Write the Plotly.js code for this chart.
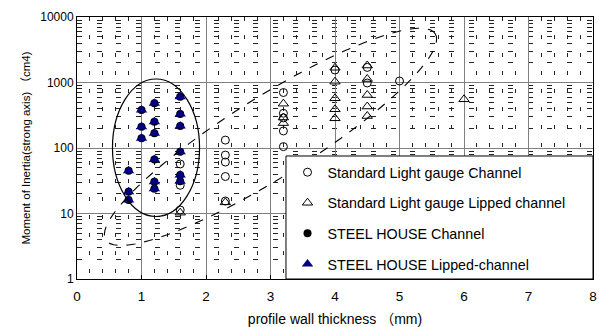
<!DOCTYPE html>
<html>
<head>
<meta charset="utf-8">
<script src="https://cdn.plot.ly/plotly-3.0.1.min.js"></script>
<style>
  html, body { margin: 0; padding: 0; background: #fff; }
  #chart { width: 599px; height: 327px; }
</style>
</head>
<body>
<div id="chart"></div>
<script>
// ---- data ----
const stdChannelX = [1.6, 1.6, 1.6, 2.3, 2.3, 2.3, 2.3, 2.3, 3.2, 3.2, 3.2, 3.2, 3.2, 4.0, 4.5, 4.5, 5.0];
const stdChannelY = [57, 27, 11.3, 132, 78, 61, 36.7, 15.5, 703, 339, 288, 182, 105, 1550, 1700, 983, 1054];

const stdLippedX = [1.6, 2.3, 3.2, 3.2, 3.2, 4.0, 4.0, 4.0, 4.0, 4.0, 4.5, 4.5, 4.5, 4.5, 4.5, 6.0];
const stdLippedY = [10.3, 14.8, 475, 292, 240, 1680, 1029, 574, 390, 284, 1818, 1131, 645, 430, 308, 554];

const shChannelX = [0.8, 0.8, 0.8, 1.0, 1.0, 1.0, 1.2, 1.2, 1.2, 1.2, 1.2, 1.2, 1.6, 1.6, 1.6, 1.6, 1.6, 1.6];
const shChannelY = [45, 21.5, 16.1, 380, 211, 141, 481, 252, 168, 67, 30.6, 23.8, 607, 330, 217, 88, 38.7, 31];

const shLippedX = [0.8, 0.8, 0.8, 1.0, 1.0, 1.0, 1.2, 1.2, 1.2, 1.2, 1.2, 1.2, 1.6, 1.6, 1.6, 1.6, 1.6, 1.6];
const shLippedY = [45, 21.5, 16.1, 380, 211, 141, 481, 252, 168, 67, 30.6, 23.8, 607, 330, 217, 88, 38.7, 31];

const seriesNames = [
  'Standard Light gauge Channel',
  'Standard Light gauge Lipped channel',
  'STEEL HOUSE Channel',
  'STEEL HOUSE Lipped-channel'
];
const yTickVals = [1, 10, 100, 1000, 10000];
const yTickText = ['1', '10', '100', '1000', '10000'];
const xTickVals = [0, 1, 2, 3, 4, 5, 6, 7, 8];

// ---- styling ----
const FONT = '"Liberation Sans", Arial, "Noto Sans CJK JP", sans-serif';
const NAVY = '#000080';

// minor log positions (2..9 per decade)
const minorY = [];
for (let d = 0; d < 4; d++) for (let k = 2; k <= 9; k++) minorY.push(k * Math.pow(10, d));

// dashed tilted ellipse (in x / log10(y) space)
const ell = {cx: 3.0, cly: 2.17, a: 3.0, b: 0.62, ang: 31.6 * Math.PI / 180};
let ellPath = '';
for (let i = 0; i <= 90; i++) {
  const t = i / 90 * 2 * Math.PI;
  const px = ell.cx + ell.a * Math.cos(t) * Math.cos(ell.ang) - ell.b * Math.sin(t) * Math.sin(ell.ang);
  const ly = ell.cly + ell.a * Math.cos(t) * Math.sin(ell.ang) + ell.b * Math.sin(t) * Math.cos(ell.ang);
  ellPath += (i === 0 ? 'M' : 'L') + px.toFixed(4) + ',' + Math.pow(10, ly).toFixed(4);
}
ellPath += 'Z';

const traces = [
  {x: stdChannelX, y: stdChannelY, name: seriesNames[0], type: 'scatter', mode: 'markers',
   legendgroup: 'g1',
   marker: {symbol: 'circle-open', size: 8, color: '#000', line: {width: 1, color: '#000'}}},
  {x: stdLippedX, y: stdLippedY, name: seriesNames[1], type: 'scatter', mode: 'markers',
   legendgroup: 'g2',
   marker: {symbol: 'triangle-up-open', size: 9, color: '#000', line: {width: 1, color: '#000'}}},
  {x: shChannelX, y: shChannelY, name: seriesNames[2], type: 'scatter', mode: 'markers',
   legendgroup: 'g3',
   marker: {symbol: 'circle', size: 8, color: '#000'}},
  {x: shLippedX, y: shLippedY, name: seriesNames[3], type: 'scatter', mode: 'markers',
   legendgroup: 'g4',
   marker: {symbol: 'triangle-up', size: 10, color: NAVY}}
];

const layout = {
  width: 599, height: 327,
  margin: {l: 77, r: 6, t: 17, b: 48},
  paper_bgcolor: '#fff', plot_bgcolor: '#fff',
  font: {family: FONT, color: '#000', size: 12},
  showlegend: true,
  legend: {
    x: 0.408, y: 0.468, xanchor: 'left', yanchor: 'top',
    bgcolor: 'rgba(0,0,0,0)', borderwidth: 0,
    traceorder: 'grouped', tracegroupgap: 9,
    font: {family: FONT, size: 14.3, color: '#000'},
    itemwidth: 30
  },
  xaxis: {
    range: [0, 8], tickmode: 'array', tickvals: xTickVals,
    showgrid: true, gridcolor: '#808080', gridwidth: 1,
    zeroline: false, showline: true, linecolor: '#000', linewidth: 1, mirror: true,
    ticks: 'inside', ticklen: 4, tickcolor: '#000',
    ticklabelstandoff: 5, ticklabeloverflow: 'allow',
    tickfont: {family: FONT, size: 13.5},
    minor: {dtick: 0.2, showgrid: true, gridcolor: '#222', griddash: '4px,14px', gridwidth: 1, ticks: ''},
    title: {text: 'profile wall thickness （mm)', font: {family: FONT, size: 14}, standoff: 12}
  },
  yaxis: {
    type: 'log', range: [0, 4], tickmode: 'array', tickvals: yTickVals, ticktext: yTickText,
    showgrid: true, gridcolor: '#808080', gridwidth: 1,
    zeroline: false, showline: true, linecolor: '#000', linewidth: 1, mirror: true,
    ticks: '', tickfont: {family: FONT, size: 12},
    minor: {tickmode: 'array', tickvals: minorY, showgrid: true, gridcolor: '#222', griddash: '5px,14.6px', gridwidth: 1, ticks: ''},
    title: {text: 'Moment of Inertia(strong axis) （cm4)', font: {family: FONT, size: 11.5}, standoff: 7}
  },
  shapes: [
    {type: 'circle', xref: 'x', yref: 'y', x0: 0.55, x1: 1.9, y0: 9, y1: 1130,
     line: {color: '#000', width: 1.2}, layer: 'above'},
    {type: 'path', xref: 'x', yref: 'y', path: ellPath,
     line: {color: '#000', width: 1.1, dash: 'dash'}, layer: 'above'},
    {type: 'rect', xref: 'paper', yref: 'paper', x0: 0.405, x1: 1, y0: 0, y1: 0.4695,
     fillcolor: '#fff', line: {color: '#000', width: 1}, layer: 'above'}
  ]
};

Plotly.newPlot('chart', traces, layout, {displayModeBar: false, staticPlot: true});
</script>
</body>
</html>
